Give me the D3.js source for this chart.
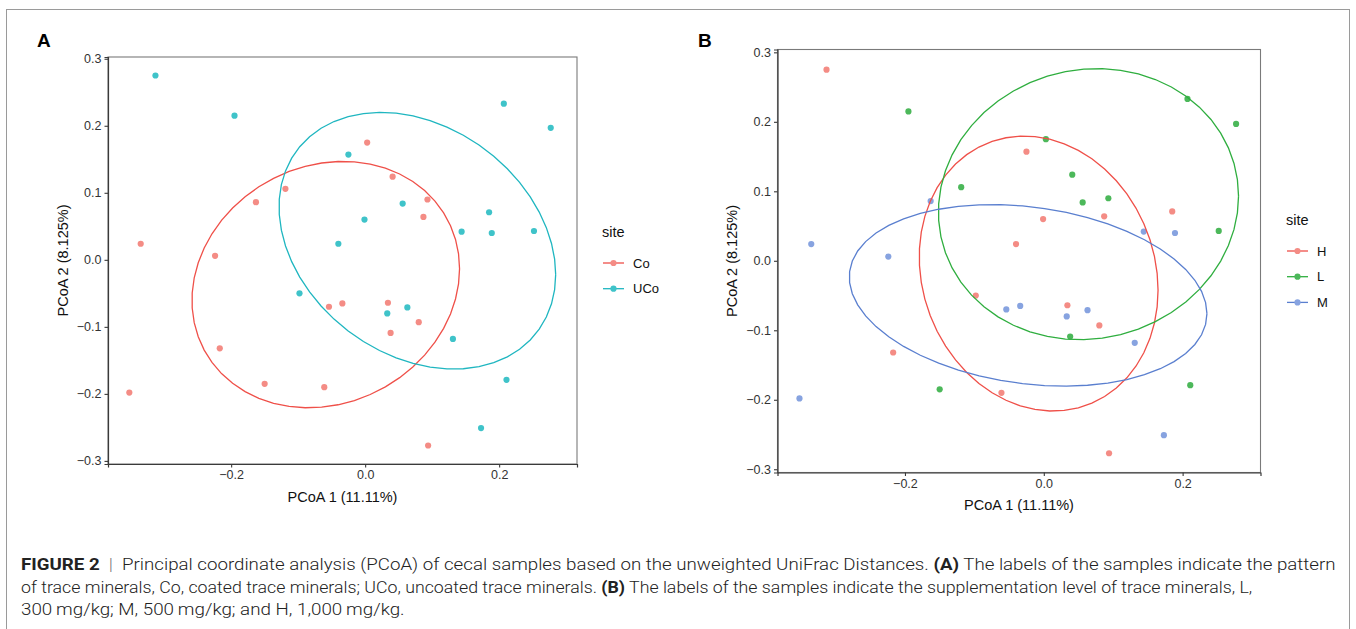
<!DOCTYPE html>
<html>
<head>
<meta charset="utf-8">
<script src="https://cdn.jsdelivr.net/npm/d3@7"></script>
<style>
  html, body { margin: 0; padding: 0; background: #fff; }
  svg { display: block; font-family: "Liberation Sans", Arial, sans-serif; }
</style>
</head>
<body>
<div id="figure"></div>
<script>
// PCoA coordinates of the 36 cecal samples (same samples in both panels)
const pcoa1 = [-0.313, -0.195, -0.025, -0.119, -0.163, -0.335, -0.224, -0.040, 0.207, 0.277,
               0.003, 0.041, 0.056, 0.093, 0.087, -0.001, 0.185, 0.144, 0.189, 0.252,
               -0.098, -0.054, -0.034, -0.217, -0.150, -0.061, -0.352, 0.034, 0.033, 0.063,
               0.080, 0.038, 0.131, 0.211, 0.173, 0.094];
const pcoa2 = [0.275, 0.215, 0.157, 0.106, 0.086, 0.024, 0.006, 0.024, 0.233, 0.197,
               0.175, 0.124, 0.084, 0.090, 0.064, 0.060, 0.071, 0.042, 0.040, 0.043,
               -0.050, -0.070, -0.065, -0.132, -0.185, -0.190, -0.198, -0.064, -0.080, -0.071,
               -0.093, -0.109, -0.118, -0.179, -0.251, -0.277];
// trace mineral pattern (panel A)
const pattern = ["UCo", "UCo", "UCo", "Co", "Co", "Co", "Co", "UCo", "UCo", "UCo",
                 "Co", "Co", "UCo", "Co", "Co", "UCo", "UCo", "UCo", "UCo", "UCo",
                 "UCo", "Co", "Co", "Co", "Co", "Co", "Co", "Co", "UCo", "UCo",
                 "Co", "Co", "UCo", "UCo", "UCo", "Co"];
// supplementation level (panel B)
const level = ["H", "L", "H", "L", "M", "M", "M", "H", "L", "L",
               "L", "L", "L", "L", "H", "H", "H", "M", "M", "L",
               "H", "M", "M", "H", "L", "H", "M", "H", "M", "M",
               "H", "L", "M", "L", "M", "H"];

const patternGroups = ["Co", "UCo"];
const levelGroups = ["H", "L", "M"];

// stat_ellipse confidence level
const ellipseLevel = 0.68;

const xTickValues = [-0.2, 0.0, 0.2];
const xTickLabels = ["\u22120.2", "0.0", "0.2"];
const yTickValues = [-0.3, -0.2, -0.1, 0.0, 0.1, 0.2, 0.3];
const yTickLabels = ["\u22120.3", "\u22120.2", "\u22120.1", "0.0", "0.1", "0.2", "0.3"];

const xTitle = "PCoA 1 (11.11%)";
const yTitle = "PCoA 2 (8.125%)";

const captionLines = [
  [["FIGURE 2", true], ["  |  ", false, "#777"], ["Principal coordinate analysis (PCoA) of cecal samples based on the unweighted UniFrac Distances. ", false], ["(A)", true], [" The labels of the samples indicate the pattern", false]],
  [["of trace minerals, Co, coated trace minerals; UCo, uncoated trace minerals. ", false], ["(B)", true], [" The labels of the samples indicate the supplementation level of trace minerals, L,", false]],
  [["300\u2009mg/kg; M, 500\u2009mg/kg; and H, 1,000\u2009mg/kg.", false]]
];
const captionWidths = [1316, 1232, 384];

const W = 1356, H = 629;

const svg = d3.select("#figure").append("svg")
    .attr("width", W)
    .attr("height", H);

svg.append("rect").attr("width", W).attr("height", H).attr("fill", "#fff");

// outer figure frame
svg.append("rect")
    .attr("x", 6.5).attr("y", 9.5)
    .attr("width", 1343).attr("height", 640)
    .attr("fill", "none")
    .attr("stroke", "#9a9a9a")
    .attr("stroke-width", 1);

const samples = pcoa1.map((x, i) => ({x: x, y: pcoa2[i], pattern: pattern[i], level: level[i]}));

// MASS::cov.trob (nu = 5) as used by ggplot2 stat_ellipse
function covTrob(pts) {
    const n = pts.length, p = 2, nu = 5;
    let w = pts.map(() => 1);
    let loc = [d3.mean(pts, d => d[0]), d3.mean(pts, d => d[1])];
    let X;
    for (let iter = 0; iter < 25; iter++) {
        const w0 = w;
        X = pts.map(d => [d[0] - loc[0], d[1] - loc[1]]);
        const sw = d3.sum(w);
        let a = 0, b = 0, c = 0;
        X.forEach((v, i) => { a += w[i] * v[0] * v[0]; b += w[i] * v[0] * v[1]; c += w[i] * v[1] * v[1]; });
        a /= sw; b /= sw; c /= sw;
        const det = a * c - b * b;
        const Q = X.map(v => (c * v[0] * v[0] - 2 * b * v[0] * v[1] + a * v[1] * v[1]) / det);
        w = Q.map(q => (nu + p) / (nu + q));
        const sw2 = d3.sum(w);
        loc = [d3.sum(pts, (d, i) => w[i] * d[0]) / sw2, d3.sum(pts, (d, i) => w[i] * d[1]) / sw2];
        if (w.every((v, i) => Math.abs(v - w0[i]) < 0.01)) break;
    }
    let a = 0, b = 0, c = 0;
    X.forEach((v, i) => { a += w[i] * v[0] * v[0]; b += w[i] * v[0] * v[1]; c += w[i] * v[1] * v[1]; });
    return {center: loc, cov: [a / n, b / n, c / n]};
}

// t ellipse, 51 segments
function ellipsePath(pts) {
    const n = pts.length;
    const dfd = n - 1;
    const qf = (dfd / 2) * (Math.pow(1 - ellipseLevel, -2 / dfd) - 1);   // qf(level, 2, dfd)
    const r = Math.sqrt(2 * qf);
    const t = covTrob(pts);
    const [a, b, c] = t.cov;
    const r11 = Math.sqrt(a), r12 = b / Math.sqrt(a), r22 = Math.sqrt(c - b * b / a);
    return d3.range(52).map(k => {
        const ang = k * 2 * Math.PI / 51;
        return [t.center[0] + r * Math.cos(ang) * r11,
                t.center[1] + r * (Math.cos(ang) * r12 + Math.sin(ang) * r22)];
    });
}

function drawPanel(cfg) {
    const groups = cfg.groups;
    const ellipses = groups.map(g => ellipsePath(samples.filter(d => d[cfg.key] === g).map(d => [d.x, d.y])));

    const allX = samples.map(d => d.x).concat(...ellipses.map(e => e.map(p => p[0])));
    const allY = samples.map(d => d.y).concat(...ellipses.map(e => e.map(p => p[1])));
    const [x0, x1] = d3.extent(allX), [y0, y1] = d3.extent(allY);
    const ex = (x1 - x0) * 0.05, ey = (y1 - y0) * 0.05;

    const x = d3.scaleLinear().domain([x0 - ex, x1 + ex]).range([cfg.left, cfg.right]);
    const y = d3.scaleLinear().domain([y0 - ey, y1 + ey]).range([cfg.bottom, cfg.top]);

    const g = svg.append("g");

    // panel border
    g.append("rect")
        .attr("x", cfg.left).attr("y", cfg.top)
        .attr("width", cfg.right - cfg.left).attr("height", cfg.bottom - cfg.top)
        .attr("fill", "none")
        .attr("stroke", "#7a7a7a")
        .attr("stroke-width", 1.1);

    const line = d3.line().x(d => x(d[0])).y(d => y(d[1]));

    g.selectAll(".pt")
        .data(samples)
        .join("circle")
        .attr("class", "pt")
        .attr("cx", d => x(d.x))
        .attr("cy", d => y(d.y))
        .attr("r", 3.1)
        .attr("fill", d => cfg.pointColors[groups.indexOf(d[cfg.key])]);

    g.selectAll(".ell")
        .data(ellipses)
        .join("path")
        .attr("class", "ell")
        .attr("d", line)
        .attr("fill", "none")
        .attr("stroke", (d, i) => cfg.lineColors[i])
        .attr("stroke-width", 1.3);

    // axes
    const xAxis = g.append("g")
        .attr("transform", `translate(0,${cfg.bottom})`)
        .call(d3.axisBottom(x).tickValues(xTickValues).tickFormat((d, i) => xTickLabels[i]).tickSize(3.5).tickPadding(3));
    const yAxis = g.append("g")
        .attr("transform", `translate(${cfg.left},0)`)
        .call(d3.axisLeft(y).tickValues(yTickValues).tickFormat((d, i) => yTickLabels[i]).tickSize(3.5).tickPadding(3));

    [xAxis, yAxis].forEach(ax => {
        ax.select(".domain").attr("stroke", "#3a3a3a").attr("stroke-width", 1.2);
        ax.selectAll(".tick line").attr("stroke", "#3a3a3a").attr("stroke-width", 1.1);
        ax.selectAll(".tick text")
            .attr("fill", "#333")
            .style("font-size", "12.5px")
            .style("font-family", "'Liberation Sans', Arial, sans-serif");
    });

    // axis titles
    g.append("text")
        .attr("x", (cfg.left + cfg.right) / 2)
        .attr("y", cfg.xTitleY)
        .attr("text-anchor", "middle")
        .style("font-size", "14.5px")
        .attr("fill", "#111")
        .text(xTitle);

    g.append("text")
        .attr("transform", `translate(${cfg.yTitleX},${(cfg.top + cfg.bottom) / 2}) rotate(-90)`)
        .attr("text-anchor", "middle")
        .style("font-size", "14.5px")
        .attr("fill", "#111")
        .text(yTitle);

    // panel letter
    g.append("text")
        .attr("x", cfg.letterX).attr("y", 47)
        .style("font-size", "19px")
        .style("font-weight", "bold")
        .attr("fill", "#000")
        .text(cfg.letter);

    // legend
    const lg = g.append("g").attr("transform", `translate(${cfg.legendX},${cfg.legendY})`);
    lg.append("text")
        .attr("x", 0).attr("y", 0)
        .style("font-size", "14.5px")
        .attr("fill", "#111")
        .text("site");
    groups.forEach((grp, i) => {
        const ky = 26 + i * 25.7;
        lg.append("line")
            .attr("x1", 1).attr("x2", 22)
            .attr("y1", ky).attr("y2", ky)
            .attr("stroke", cfg.lineColors[i])
            .attr("stroke-width", 1.3);
        lg.append("circle")
            .attr("cx", 11.5).attr("cy", ky).attr("r", 3.1)
            .attr("fill", cfg.pointColors[i]);
        lg.append("text")
            .attr("x", 31).attr("y", ky + 4.5)
            .style("font-size", "13px")
            .attr("fill", "#111")
            .text(grp);
    });
}

drawPanel({
    key: "pattern", groups: patternGroups, letter: "A", letterX: 37,
    left: 108, right: 577, top: 57, bottom: 464,
    xTitleY: 502, yTitleX: 68,
    legendX: 602, legendY: 237,
    pointColors: ["#f48c85", "#3fc3c9"],
    lineColors: ["#ef5049", "#1fb6c0"]
});

drawPanel({
    key: "level", groups: levelGroups, letter: "B", letterX: 698,
    left: 777.5, right: 1260.5, top: 49.5, bottom: 472.5,
    xTitleY: 510, yTitleX: 737,
    legendX: 1286, legendY: 225,
    pointColors: ["#f48c85", "#4cb85a", "#87a3e0"],
    lineColors: ["#ef5049", "#2fae3f", "#5a7fcf"]
});

// caption, each line squeezed horizontally to its measured width
captionLines.forEach((segs, li) => {
    const t = svg.append("text")
        .attr("x", 0)
        .attr("y", 570 + li * 22.7)
        .style("font-family", "Roboto, 'Liberation Sans', sans-serif")
        .style("font-size", "17px")
        .style("font-weight", 300)
        .attr("fill", "#222")
        .attr("xml:space", "preserve");
    segs.forEach(s => {
        t.append("tspan")
            .style("font-weight", s[1] ? 700 : 300)
            .attr("fill", s[2] || "#222")
            .text(s[0]);
    });
    const sx = captionWidths[li] / t.node().getComputedTextLength();
    t.attr("transform", `translate(21,0) scale(${sx},1)`);
});
</script>
</body>
</html>
